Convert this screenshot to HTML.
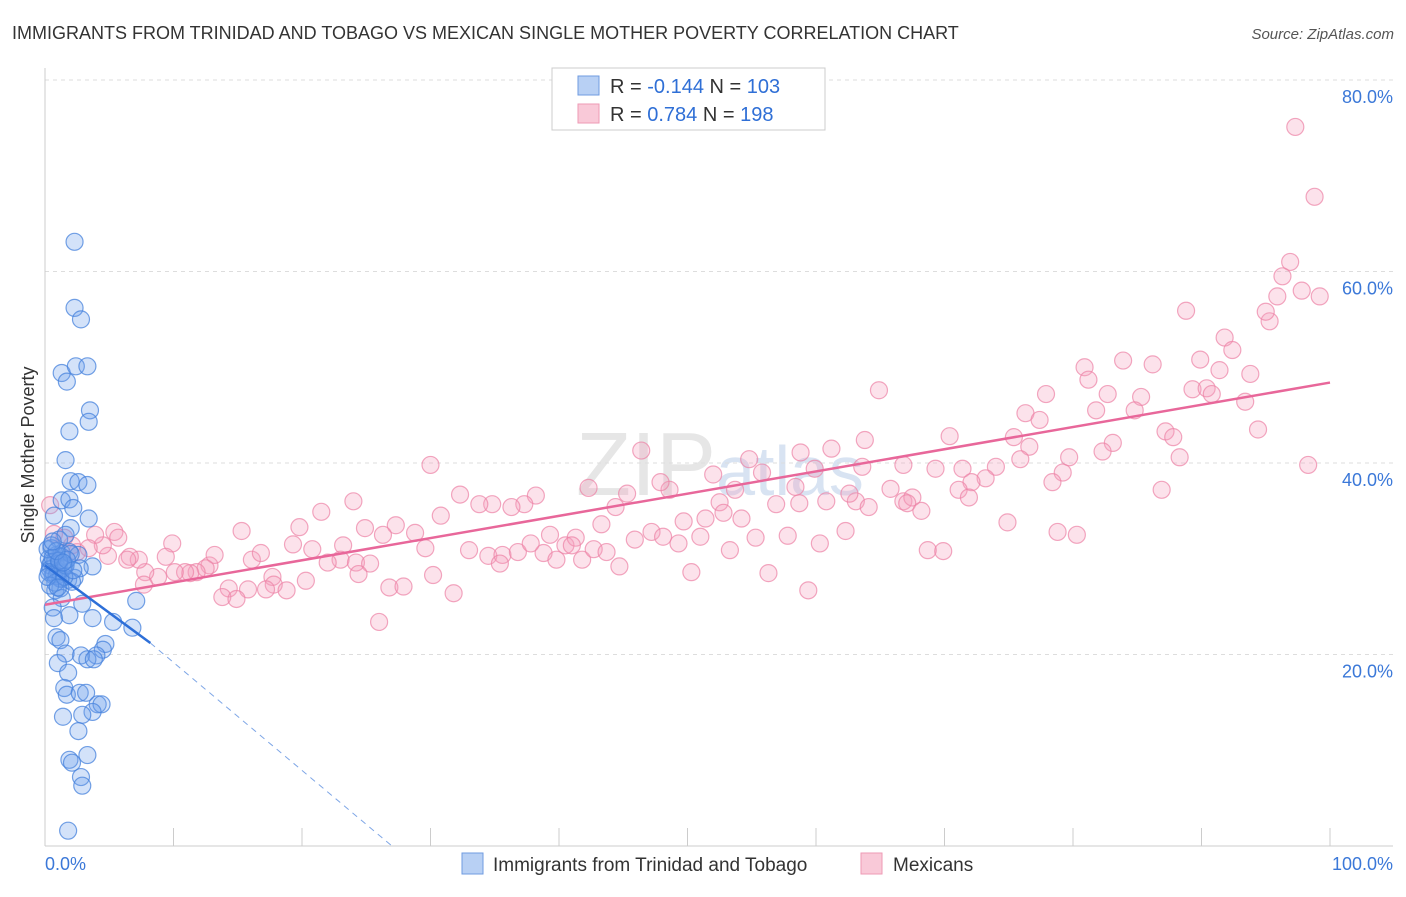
<!DOCTYPE html>
<html><head><meta charset="utf-8"><style>
body{margin:0;background:#fff;font-family:"Liberation Sans",sans-serif;}
svg text{font-family:"Liberation Sans",sans-serif;}
</style></head><body>
<svg width="1406" height="892" xmlns="http://www.w3.org/2000/svg">
<text x="12" y="39" font-size="18" fill="#333">IMMIGRANTS FROM TRINIDAD AND TOBAGO VS MEXICAN SINGLE MOTHER POVERTY CORRELATION CHART</text>
<text x="1394" y="39" font-size="15" fill="#555" font-style="italic" text-anchor="end">Source: ZipAtlas.com</text>
<text x="720" y="495" font-size="90" fill="#e6e6e6" text-anchor="middle" font-family="Liberation Serif">ZIP<tspan fill="#d8e3f2" font-family="Liberation Sans" font-size="70">atlas</tspan></text>
<g id="grid"></g>
<g id="axes"></g>
<g id="pts"></g>
<g id="trend"></g>
<text transform="translate(34,455) rotate(-90)" font-size="18" fill="#333" text-anchor="middle">Single Mother Poverty</text>
<g>
<rect x="552" y="68" width="273" height="62" fill="#fff" stroke="#ccc"/>
<rect x="578" y="76" width="21" height="19" fill="#b8d0f4" stroke="#6f9be0"/>
<rect x="578" y="104" width="21" height="19" fill="#f9c9d8" stroke="#ee9ab5"/>
<text x="610" y="93" font-size="20" fill="#333">R = <tspan fill="#2f6fd6">-0.144</tspan>   N = <tspan fill="#2f6fd6">103</tspan></text>
<text x="610" y="121" font-size="20" fill="#333">R =  <tspan fill="#2f6fd6">0.784</tspan>   N = <tspan fill="#2f6fd6">198</tspan></text>
</g>
<g>
<rect x="462" y="853" width="21" height="21" fill="#b8d0f4" stroke="#6f9be0"/>
<text x="493" y="871" font-size="19" fill="#333">Immigrants from Trinidad and Tobago</text>
<rect x="861" y="853" width="21" height="21" fill="#f9c9d8" stroke="#ee9ab5"/>
<text x="893" y="871" font-size="19" fill="#333">Mexicans</text>
</g>
</svg>
<script>
const xTicks=[0,10,20,30,40,50,60,70,80,90,100];
const yTicks=[20,40,60,80];
const yTickLabels=["20.0%","40.0%","60.0%","80.0%"];
const blueX=[2.3,2.3,2.8,1.3,2.4,3.3,1.7,3.5,3.4,1.9,1.6,2.0,2.6,3.3,1.3,1.9,2.2,3.4,0.7,2.0,1.1,1.6,0.5,0.9,1.3,1.9,2.6,0.4,1.0,1.5,0.6,1.2,1.8,2.3,3.7,2.7,0.8,1.2,2.1,1.3,2.9,0.6,0.7,1.9,3.7,5.3,7.1,6.8,0.9,1.2,4.7,4.5,4.0,2.8,1.6,1.0,3.3,3.8,1.8,1.5,1.7,2.7,3.2,4.1,4.4,3.7,2.9,1.4,2.6,3.3,1.9,2.1,2.8,2.9,1.8,0.3,0.5,0.8,1.0,1.3,0.4,0.7,1.1,1.4,0.2,0.6,0.9,1.2,1.6,0.3,0.8,1.5,2.0,0.5,1.1,1.7,0.4,0.9,2.2,1.4,0.6,0.2,1.0];
const blueY=[63.1,56.2,55.0,49.4,50.1,50.1,48.5,45.5,44.3,43.3,40.3,38.1,38.0,37.7,36.1,36.2,35.3,34.2,34.5,33.2,32.0,32.5,31.1,30.4,30.6,30.7,30.4,29.3,29.0,29.2,28.3,28.0,27.8,28.0,29.2,29.0,26.7,26.9,27.6,25.9,25.3,24.9,23.8,24.1,23.8,23.4,25.6,22.8,21.8,21.5,21.1,20.5,19.9,19.9,20.1,19.1,19.5,19.5,18.1,16.5,15.8,16.0,16.0,14.8,14.8,14.0,13.7,13.5,12.0,9.5,9.0,8.7,7.2,6.3,1.6,30.0,29.6,29.8,28.7,30.2,28.9,28.4,29.5,29.0,31.0,30.1,28.2,27.9,29.3,28.6,27.5,28.1,30.5,31.4,29.8,29.9,27.2,30.8,28.8,29.6,31.8,28.1,27.0];
const pinkX=[97.3,98.8,96.9,96.3,95.9,97.8,99.2,95.3,95.0,88.8,91.8,92.4,89.9,91.4,93.8,86.2,83.9,80.9,81.2,89.3,90.4,90.8,93.4,85.3,84.8,82.7,81.8,77.9,64.9,76.3,77.4,94.4,87.2,87.8,83.1,75.4,70.4,63.8,82.3,76.6,75.9,88.3,79.7,98.3,79.2,78.4,86.9,74.0,73.2,71.4,72.1,69.3,71.1,71.9,66.8,65.8,63.6,61.2,58.8,59.9,58.4,55.8,54.8,53.7,52.0,60.8,63.1,62.6,64.1,66.8,67.5,67.1,68.2,58.7,56.9,54.2,52.5,52.8,51.4,49.7,48.6,47.9,46.4,45.3,44.4,43.3,42.3,38.2,37.3,36.3,34.8,33.8,32.3,30.8,30.0,28.8,27.3,26.3,24.9,23.2,21.5,19.8,19.3,15.3,16.1,16.8,20.8,23.0,24.2,22.0,25.3,24.4,20.3,17.7,17.8,18.8,17.2,15.8,14.3,13.8,14.9,12.8,13.2,12.5,11.8,11.3,10.9,10.1,8.8,7.8,9.9,9.4,7.3,6.6,6.4,4.9,5.4,5.7,4.5,3.9,3.4,2.5,2.1,1.5,0.7,0.4,7.7,26.8,27.9,30.2,31.8,26.0,29.6,33.0,34.5,35.6,36.8,35.4,38.8,39.8,37.8,39.3,40.5,41.3,41.0,41.8,42.7,43.7,44.7,45.9,47.2,48.1,49.3,51.0,50.3,53.3,55.3,56.3,57.8,60.3,62.3,59.4,68.7,69.9,74.9,78.8,80.3,24.0];
const pinkY=[75.1,67.8,61.0,59.5,57.4,58.0,57.4,54.8,55.8,55.9,53.1,51.8,50.8,49.7,49.3,50.3,50.7,50.0,48.7,47.7,47.8,47.2,46.4,46.9,45.5,47.2,45.5,47.2,47.6,45.2,44.5,43.5,43.3,42.7,42.1,42.7,42.8,42.4,41.2,41.7,40.4,40.6,40.6,39.8,39.0,38.0,37.2,39.6,38.4,39.4,38.0,39.4,37.2,36.4,39.8,37.3,39.6,41.5,41.1,39.4,37.5,39.0,40.4,37.2,38.8,36.0,36.0,36.8,35.4,36.0,36.4,35.8,35.0,35.8,35.7,34.2,35.9,34.8,34.2,33.9,37.2,38.0,41.3,36.8,35.4,33.6,37.4,36.6,35.7,35.4,35.7,35.7,36.7,34.5,39.8,32.7,33.5,32.5,33.2,31.4,34.9,33.3,31.5,32.9,29.9,30.6,31.0,29.9,29.6,29.6,29.5,28.4,27.7,28.1,27.3,26.7,26.8,26.8,26.9,26.0,25.8,29.3,30.4,29.0,28.6,28.5,28.6,28.6,28.1,28.6,31.6,30.2,29.9,30.2,29.9,30.3,32.8,32.2,31.4,32.5,31.1,30.7,31.4,32.2,32.6,35.6,27.3,27.0,27.1,28.3,26.4,23.4,31.1,30.9,30.3,30.4,30.7,29.5,30.6,29.9,31.6,32.5,31.4,32.2,31.4,29.9,31.0,30.7,29.2,32.0,32.8,32.3,31.6,32.3,28.6,30.9,32.2,28.5,32.4,31.6,32.9,26.7,30.9,30.8,33.8,32.8,32.5,36.0];
const pinkTrend=[25.2,48.4];
const blueTrend=[29.3,21.2];
const blueTrendEndX=8.2, blueZeroX=27;
const X=v=>45+v*12.85, Y=v=>846-v*9.575;
const NS="http://www.w3.org/2000/svg";
function mk(t,a,p){const e=document.createElementNS(NS,t);for(const k in a)e.setAttribute(k,a[k]);p.appendChild(e);return e;}
const grid=document.getElementById('grid'),axes=document.getElementById('axes'),pts=document.getElementById('pts'),tr=document.getElementById('trend');
yTicks.forEach((v,i)=>{
 const l=mk('line',{x1:45,x2:1393,y1:Y(v),y2:Y(v),stroke:'#ddd','stroke-dasharray':'4,4'},grid);
 
 
 const t=mk('text',{x:1393,y:Y(v)+23,'font-size':18,fill:'#3b78d8','text-anchor':'end'},grid);t.textContent=yTickLabels[i];
 
 
});
const ax=mk('line',{x1:45,x2:1393,y1:846,y2:846,stroke:'#ccc'},axes);


const ay=mk('line',{x1:45,x2:45,y1:68,y2:846,stroke:'#ccc'},axes);


xTicks.forEach(v=>{const l=mk('line',{x1:X(v),x2:X(v),y1:828,y2:846,stroke:'#ccc'},axes);
 
 });
const t0=mk('text',{x:45,y:870,'font-size':18,fill:'#3b78d8'},axes);t0.textContent='0.0%';


const t1=mk('text',{x:1393,y:870,'font-size':18,fill:'#3b78d8','text-anchor':'end'},axes);t1.textContent='100.0%';


pinkX.forEach((x,i)=>{const c=mk('circle',{cx:X(x),cy:Y(pinkY[i]),r:8.5,fill:'rgba(244,160,190,0.3)',stroke:'rgba(236,130,165,0.7)','stroke-width':1.2},pts);
 
 });
blueX.forEach((x,i)=>{const c=mk('circle',{cx:X(x),cy:Y(blueY[i]),r:8.5,fill:'rgba(110,160,235,0.3)',stroke:'rgba(70,130,220,0.75)','stroke-width':1.2},pts);
 
 });
const pl=mk('line',{x1:X(0),y1:Y(pinkTrend[0]),x2:X(100),y2:Y(pinkTrend[1]),stroke:'#e8679a','stroke-width':2.5},tr);


const bl=mk('line',{x1:X(0),y1:Y(blueTrend[0]),x2:X(blueTrendEndX),y2:Y(blueTrend[1]),stroke:'#2d6fd8','stroke-width':2.5},tr);


const bd=mk('line',{x1:X(blueTrendEndX),y1:Y(blueTrend[1]),x2:X(blueZeroX),y2:Y(0),stroke:'#7ea6e6','stroke-width':1,'stroke-dasharray':'6,5'},tr);


</script>
</body></html>
